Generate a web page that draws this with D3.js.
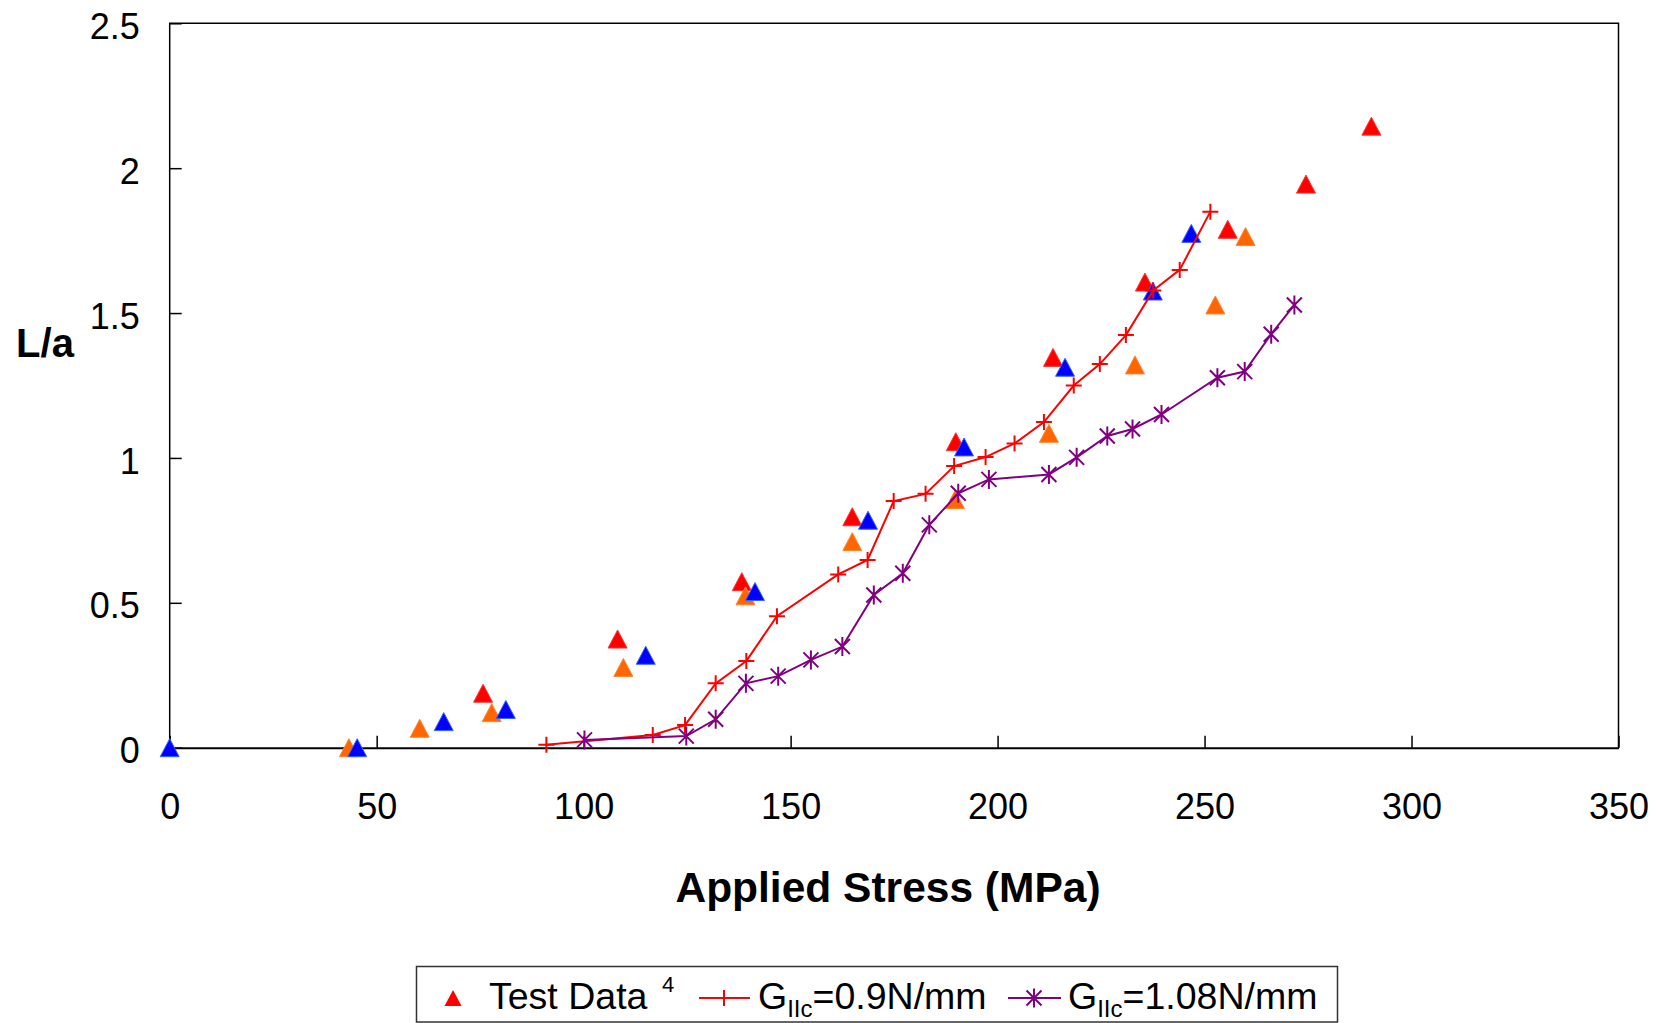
<!DOCTYPE html>
<html>
<head>
<meta charset="utf-8">
<script src="https://cdn.jsdelivr.net/npm/d3@7"></script>
<style>
  body { margin: 0; background: #fff; }
  svg { display: block; font-family: "Liberation Sans", Arial, sans-serif; }
</style>
</head>
<body>
<script>
const w = 1663;
const h = 1023;

// test data triangles (three specimens)
const redTriX = [75.7, 108.2, 138.2, 164.9, 189.9, 213.4, 235.6, 255.6, 274.5, 290.3];
const redTriY = [0.188, 0.375, 0.573, 0.797, 1.056, 1.347, 1.607, 1.789, 1.945, 2.145];
const orangeTriX = [43.3, 60.4, 77.8, 109.6, 139.1, 164.9, 189.7, 212.4, 233.2, 252.6, 259.9];
const orangeTriY = [0, 0.067, 0.121, 0.277, 0.524, 0.711, 0.856, 1.085, 1.321, 1.528, 1.764];
const blueTriX = [0, 45.3, 66.2, 81.2, 115.0, 141.4, 168.7, 191.9, 216.3, 237.5, 246.8];
const blueTriY = [0, 0, 0.09, 0.132, 0.319, 0.539, 0.785, 1.038, 1.313, 1.576, 1.775];

// GIIc = 0.9 N/mm
const g09X = [91, 116.7, 124.5, 131.9, 139.3, 146.7, 161.5, 168.6, 174.9, 182.6, 189.5, 197.1, 204.1, 211.2, 218.4, 224.7, 231.0, 237.6, 244.0, 251.4];
const g09Y = [0.01, 0.044, 0.078, 0.222, 0.299, 0.454, 0.598, 0.648, 0.851, 0.876, 0.972, 1.003, 1.05, 1.124, 1.25, 1.324, 1.424, 1.578, 1.649, 1.85];

// GIIc = 1.08 N/mm
const g108X = [100.2, 124.8, 131.9, 139.2, 147.0, 154.9, 162.5, 170.1, 177.1, 183.5, 190.5, 197.9, 212.4, 219.1, 226.5, 232.6, 239.6, 253.1, 259.7, 266.1, 271.7];
const g108Y = [0.027, 0.04, 0.098, 0.222, 0.247, 0.303, 0.349, 0.527, 0.602, 0.769, 0.878, 0.926, 0.943, 1.002, 1.076, 1.1, 1.15, 1.277, 1.298, 1.427, 1.528];

const xTicks = [0, 50, 100, 150, 200, 250, 300, 350];
const yTicks = [0, 0.5, 1, 1.5, 2, 2.5];

const plotL = 169.7, plotR = 1618.5, plotT = 23.3, plotB = 747.7;

const xScale = d3.scaleLinear().domain([0, 350]).range([plotL, plotR]);
const yScale = d3.scaleLinear().domain([0, 2.5]).range([plotB, plotT]);

const svg = d3.select("body").append("svg")
  .attr("width", w)
  .attr("height", h);

const triPath = "M0,-9L9.5,9L-9.5,9Z";
const plusPath = "M-8,0H8M0,-8V8";
const starPath = "M-7.5,-7.5L7.5,7.5M-7.5,7.5L7.5,-7.5M0,-9.5V9.5";

// frame
svg.append("path")
  .attr("d", `M${plotL},${plotB}V${plotT}H${plotR}V${plotB}`)
  .attr("fill", "none")
  .attr("stroke", "#000")
  .attr("stroke-width", 1.5);

// axes
const yAxis = d3.axisLeft(yScale)
  .tickValues(yTicks)
  .tickFormat(d => String(d))
  .tickSizeInner(-12)
  .tickSizeOuter(0)
  .tickPadding(30);

const gy = svg.append("g")
  .attr("transform", `translate(${plotL},0)`)
  .call(yAxis);
gy.select(".domain").remove();
gy.selectAll("line").attr("stroke", "#000").attr("stroke-width", 1.5);
gy.selectAll("text").attr("font-size", 36).attr("fill", "#000").attr("dy", "0.42em")
  .attr("font-family", "'Liberation Sans', Arial, sans-serif");

const xAxis = d3.axisBottom(xScale)
  .tickValues(xTicks)
  .tickSizeInner(-12)
  .tickSizeOuter(0)
  .tickPadding(46);

const gx = svg.append("g")
  .attr("transform", `translate(0,${plotB})`)
  .call(xAxis);
gx.select(".domain").attr("stroke", "#000").attr("stroke-width", 2);
gx.selectAll("line").attr("stroke", "#000").attr("stroke-width", 1.5);
gx.selectAll("text").attr("font-size", 36).attr("fill", "#000")
  .attr("font-family", "'Liberation Sans', Arial, sans-serif");

// axis titles
svg.append("text")
  .attr("x", 45)
  .attr("y", 357)
  .attr("text-anchor", "middle")
  .attr("font-size", 40)
  .attr("font-weight", "bold")
  .text("L/a");

svg.append("text")
  .attr("x", 888)
  .attr("y", 902)
  .attr("text-anchor", "middle")
  .attr("font-size", 42.5)
  .attr("font-weight", "bold")
  .text("Applied Stress (MPa)");

// triangles
function drawTri(xs, ys, fill, stroke) {
  svg.append("g").selectAll("path")
    .data(xs.map((x, i) => ({x: x, y: ys[i]})))
    .enter()
    .append("path")
    .attr("d", triPath)
    .attr("transform", d => `translate(${xScale(d.x)},${yScale(d.y)})`)
    .attr("fill", fill)
    .attr("stroke", stroke)
    .attr("stroke-width", 1);
}
drawTri(redTriX, redTriY, "#ff0000", "#ff3333");
drawTri(orangeTriX, orangeTriY, "#ff6600", "#ff8533");
drawTri(blueTriX, blueTriY, "#0000ff", "#3366ff");

// model lines
function drawLine(xs, ys, color, marker) {
  const pts = xs.map((x, i) => ({x: x, y: ys[i]}));
  svg.append("path")
    .datum(pts)
    .attr("fill", "none")
    .attr("stroke", color)
    .attr("stroke-width", 2)
    .attr("d", d3.line().x(d => xScale(d.x)).y(d => yScale(d.y)));
  svg.append("g").selectAll("path")
    .data(pts)
    .enter()
    .append("path")
    .attr("d", marker)
    .attr("transform", d => `translate(${xScale(d.x)},${yScale(d.y)})`)
    .attr("fill", "none")
    .attr("stroke", color)
    .attr("stroke-width", 2);
}
drawLine(g09X, g09Y, "#ff0000", plusPath);
drawLine(g108X, g108Y, "#800080", starPath);

// legend
const legend = svg.append("g");
legend.append("rect")
  .attr("x", 416.5)
  .attr("y", 966.5)
  .attr("width", 921)
  .attr("height", 55.5)
  .attr("fill", "#fff")
  .attr("stroke", "#333")
  .attr("stroke-width", 1.5);

const ly = 998, lb = 1009;
legend.append("path")
  .attr("d", "M0,-8L8.5,8L-8.5,8Z")
  .attr("transform", `translate(453,${ly})`)
  .attr("fill", "#ff0000");
const t1 = legend.append("text").attr("x", 489).attr("y", lb).attr("font-size", 37.5);
t1.append("tspan").text("Test Data");
t1.append("tspan").attr("x", 662).attr("dy", -17).attr("font-size", 22).text("4");

legend.append("line").attr("x1", 699).attr("x2", 750).attr("y1", ly).attr("y2", ly)
  .attr("stroke", "#ff0000").attr("stroke-width", 2);
legend.append("path").attr("d", plusPath).attr("transform", `translate(724,${ly})`)
  .attr("fill", "none").attr("stroke", "#ff0000").attr("stroke-width", 2);
const t2 = legend.append("text").attr("x", 758).attr("y", lb).attr("font-size", 37.5);
t2.append("tspan").text("G");
t2.append("tspan").attr("font-size", 24).attr("dy", 8).text("IIc");
t2.append("tspan").attr("dy", -8).text("=0.9N/mm");

legend.append("line").attr("x1", 1008).attr("x2", 1061).attr("y1", ly).attr("y2", ly)
  .attr("stroke", "#800080").attr("stroke-width", 2);
legend.append("path").attr("d", starPath).attr("transform", `translate(1034,${ly})`)
  .attr("fill", "none").attr("stroke", "#800080").attr("stroke-width", 2);
const t3 = legend.append("text").attr("x", 1068).attr("y", lb).attr("font-size", 37.5);
t3.append("tspan").text("G");
t3.append("tspan").attr("font-size", 24).attr("dy", 8).text("IIc");
t3.append("tspan").attr("dy", -8).text("=1.08N/mm");
</script>
</body>
</html>
